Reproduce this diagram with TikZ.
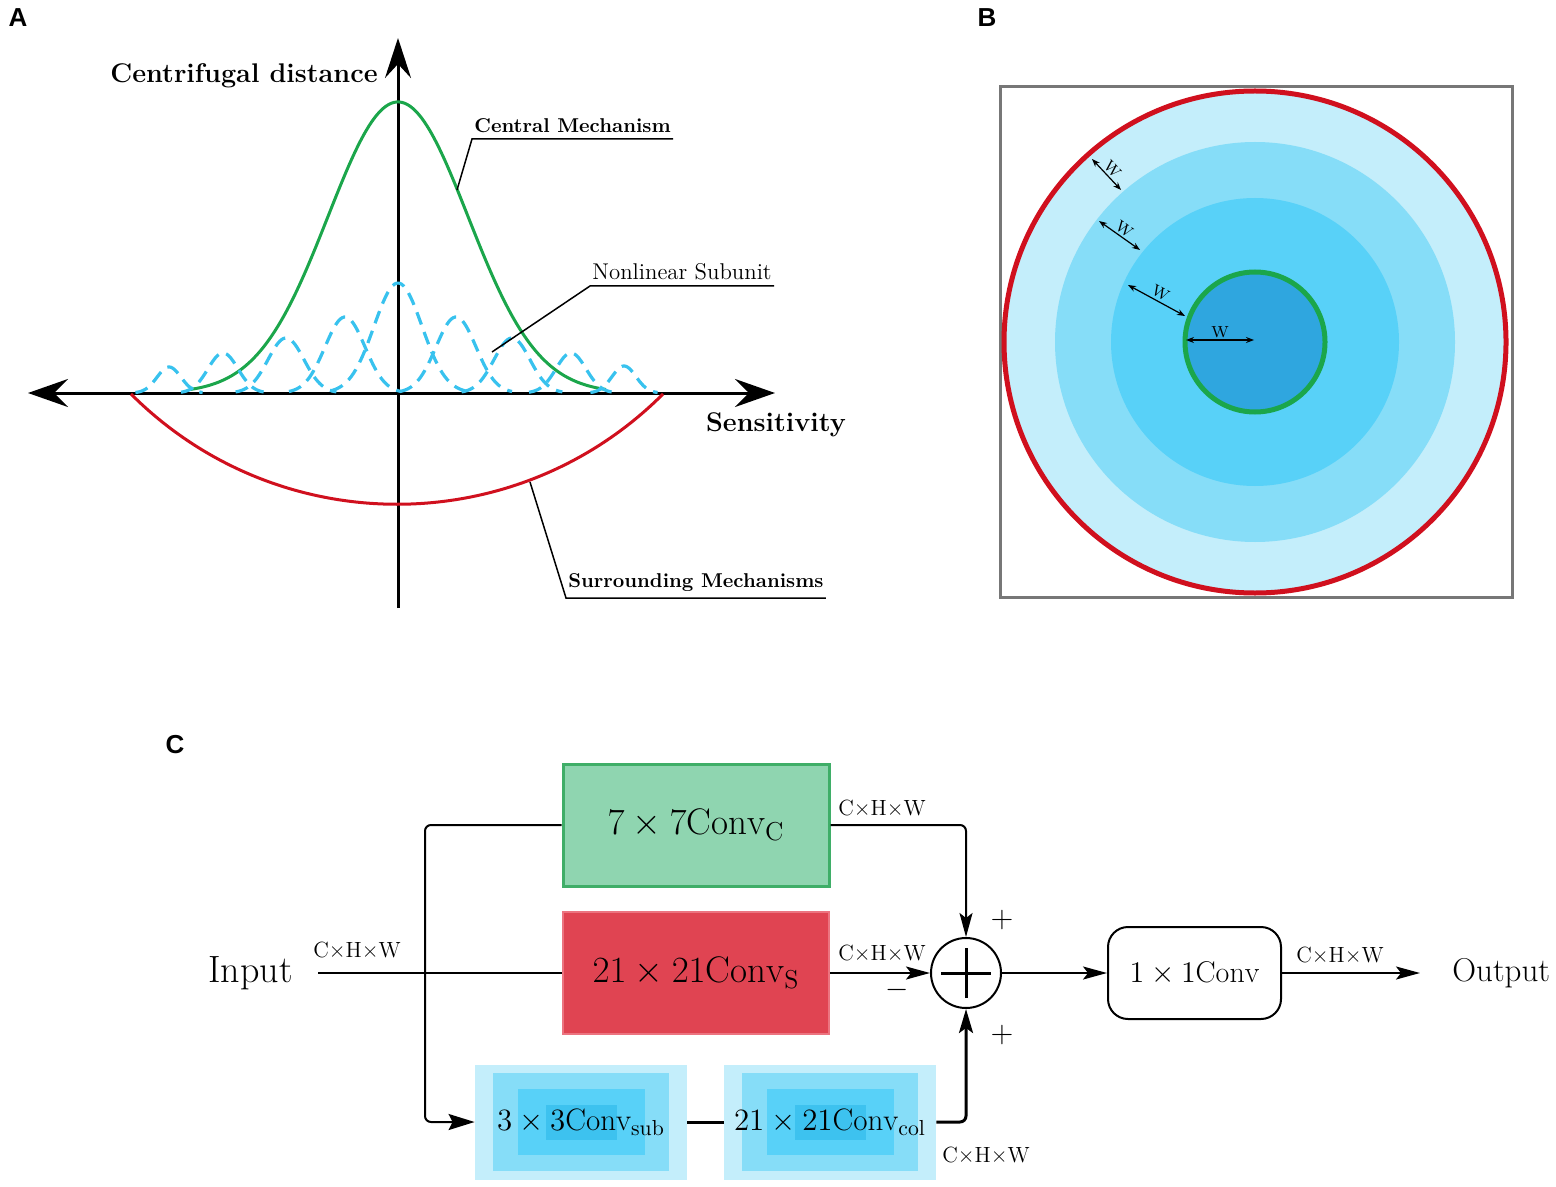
\RequirePackage{fix-cm}
\documentclass[tikz,border=0pt]{standalone}
\usepackage{amsmath}
\usepackage{fontspec}
\newfontfamily\panelfont{Liberation Sans}
\usetikzlibrary{arrows.meta,positioning}

\definecolor{curvegreen}{HTML}{1BA64B}
\definecolor{subblue}{HTML}{38C2EE}
\definecolor{surred}{HTML}{D0101E}
\definecolor{ringA}{HTML}{C4EEFB}
\definecolor{ringB}{HTML}{86DDF8}
\definecolor{ringC}{HTML}{58D1F8}
\definecolor{ringD}{HTML}{2FA6DF}
\definecolor{ringE}{HTML}{3DC2EF}
\definecolor{boxgreen}{HTML}{8FD5B0}
\definecolor{edgegreen}{HTML}{3FAE68}
\definecolor{boxred}{HTML}{E04452}
\definecolor{edgered}{HTML}{EC7480}
\definecolor{framegray}{HTML}{777777}

\begin{document}
\begin{tikzpicture}[x=0.5pt, y=-0.5pt,
  panel/.style={font=\panelfont\bfseries\fontsize{13}{15}\selectfont, inner sep=0pt},
  axisline/.style={line width=1.5pt},
  axislabel/.style={font=\bfseries\fontsize{13.5}{15}\selectfont},
  callout/.style={inner xsep=1pt, inner ysep=3pt},
  leader/.style={line width=0.75pt},
  central/.style={curvegreen, line width=1.5pt},
  subunit/.style={subblue, line width=1.6pt, dash pattern=on 6.5pt off 4pt},
  surround/.style={surred, line width=1.5pt},
  frame/.style={framegray, line width=1.5pt},
  wline/.style={line width=0.6pt, {Stealth[length=4pt,width=3pt]}-{Stealth[length=4pt,width=3pt]}},
  wlabel/.style={font=\fontsize{8}{9}\selectfont, inner sep=1pt, sloped, above},
  convbox/.style={minimum width=133pt, minimum height=61pt, inner sep=0pt, font=\fontsize{18.5}{20}\selectfont},
  bluebox/.style={minimum width=106pt, minimum height=57.5pt, inner sep=0pt, font=\fontsize{15.5}{17}\selectfont},
  flow/.style={line width=1pt},
  thickflow/.style={line width=1.5pt},
  tip/.style={-{Stealth[length=12pt, width=6.5pt, inset=2.5pt]}},
  dimlabel/.style={font=\fontsize{11}{12}\selectfont, inner sep=1pt},
  sign/.style={font=\fontsize{15}{16}\selectfont, inner sep=0pt},
  iotext/.style={font=\fontsize{19}{21}\selectfont, inner ysep=0pt}]
\useasboundingbox (0,0) rectangle (1556,1187);

% A
\node[panel] (labA) at (18,18) {A};
\draw[axisline, {Stealth[length=20pt,width=14pt,inset=7pt]}-{Stealth[length=20pt,width=14pt,inset=7pt]}] (28,393) -- (775,393);
\draw[axisline, -{Stealth[length=20pt,width=13pt,inset=7pt]}] (398,608) -- (398,38);
\draw[central] plot[domain=190:606, samples=150] (\x,{393-291*exp(-0.5*((\x-398)/70)^2)});
\foreach \c/\s/\h in {398/24/110, 345/20/76, 456/20/76, 286/18/55, 512/18/55,
                      223/15/40, 571/15/40, 169/12/26, 624/12/27}
  \draw[subunit] plot[domain=\c-2.8*\s:\c+2.8*\s, samples=60] (\x,{393-\h*exp(-0.5*((\x-\c)/\s)^2)});
\draw[surround] (131,394) .. controls (278,541) and (516,541) .. (663,394);
\node[axislabel] (dist) at (244,76) {Centrifugal distance};
\node[axislabel] (sens) at (776,425) {Sensitivity};

\node[callout, anchor=south west, font=\bfseries\fontsize{10}{12}\selectfont] (cm) at (472,139) {Central Mechanism};
\node[callout, anchor=south west, font=\fontsize{11.4}{13}\selectfont] (ns) at (590,286) {Nonlinear Subunit};
\node[callout, anchor=south west, font=\bfseries\fontsize{10}{12}\selectfont] (sm) at (566,598) {Surrounding Mechanisms};
\coordinate (cmtip) at (457,190);
\coordinate (nstip) at (492,352);
\coordinate (smtip) at (530,482);
\draw[leader] (cm.south east) -- (cm.south west) -- (cmtip);
\draw[leader] (ns.south east) -- (ns.south west) -- (nstip);
\draw[leader] (sm.south east) -- (sm.south west) -- (smtip);

% B
\node[panel] (labB) at (987,18) {B};
\draw[frame] (1000,87) rectangle (1512,597);
\fill[ringA] (1255,342) circle[radius=251];
\fill[ringB] (1255,342) circle[radius=200];
\fill[ringC] (1255,342) circle[radius=144];
\fill[ringD] (1255,342) circle[radius=70];
\draw[curvegreen, line width=2.5pt] (1255,342) circle[radius=70];
\draw[surred, line width=2.5pt] (1255,342) circle[radius=251];
\draw[wline] (1092,159) -- node[wlabel] {W} (1121,190);
\draw[wline] (1099,221) -- node[wlabel] {W} (1140,250);
\draw[wline] (1128,285) -- node[wlabel] {W} (1185,316);
\draw[wline] (1186,340) -- node[wlabel] {W} (1254,340);

% C
\node[panel] (labC) at (175,745) {C};
\node[convbox, fill=boxgreen, draw=edgegreen, line width=1.5pt] (conC) at (696,825) {$7\times7\mathrm{Conv}_{\mathrm{C}}$};
\node[convbox, fill=boxred, draw=edgered, line width=0.75pt] (conS) at (696,973) {$21\times21\mathrm{Conv}_{\mathrm{S}}$};
\foreach \col/\w/\h in {ringA/106/57.5, ringB/88/49, ringC/63.5/33, ringE/35.5/17.5} {
  \node[fill=\col, minimum width=\w pt, minimum height=\h pt, inner sep=0pt] (sub\col) at (581,1122) {};
  \node[fill=\col, minimum width=\w pt, minimum height=\h pt, inner sep=0pt] (col\col) at (830,1122) {};
}
\node[bluebox] (sub) at (581,1122) {$3\times3\mathrm{Conv}_{\mathrm{sub}}$};
\node[bluebox] (col) at (830,1122) {$21\times21\mathrm{Conv}_{\mathrm{col}}$};
\node[circle, draw, line width=1pt, minimum size=35pt, inner sep=0pt] (sum) at (966,973) {};
\draw[line width=1.5pt] ([xshift=-12.5pt]sum.center) -- ([xshift=12.5pt]sum.center);
\draw[line width=1.5pt] ([yshift=-12.5pt]sum.center) -- ([yshift=12.5pt]sum.center);
\node[draw, rounded corners=10pt, line width=1pt, minimum width=86.5pt, minimum height=46pt,
      font=\fontsize{15}{17}\selectfont] (one) at (1194.5,973) {$1\times1\mathrm{Conv}$};
\node[iotext, anchor=east, inner xsep=12.5pt] (input) at (318,973) {Input};
\node[iotext, anchor=west, inner xsep=16pt, font=\fontsize{16.5}{18}\selectfont] (output) at (1420,973) {Output};
\coordinate (split) at (425,973);

\draw[flow] (input.east) -- (conS.west);
\draw[flow, -{Stealth[length=13pt, width=8pt, inset=2pt]}, rounded corners=3pt] (conC.west) -| (split) |- (sub.west);
\draw[flow, tip, rounded corners=3pt] (conC.east) -| (sum.north);
\draw[flow, tip] (conS.east) -- (sum.west);
\draw[thickflow] (sub.east) -- (col.west);
\draw[thickflow, -{Stealth[length=12pt, width=7pt, inset=2.5pt]}, rounded corners=3pt] (col.east) -| (sum.south);
\draw[flow, tip] (sum.east) -- (one.west);
\draw[flow, tip] (one.east) -- (output.west);

\node[dimlabel] (dimIn) at (357,950) {C×H×W};
\node[dimlabel] (dimC) at (882,808) {C×H×W};
\node[dimlabel] (dimS) at (882,953) {C×H×W};
\node[dimlabel] (dimOut) at (1340,955) {C×H×W};
\node[dimlabel] (dimCol) at (986,1155) {C×H×W};
\node[sign] (plusC) at (1002,920) {$+$};
\node[sign] (plusCol) at (1002,1035) {$+$};
\node[sign] (minusS) at (897,990) {$-$};
\end{tikzpicture}
\end{document}
